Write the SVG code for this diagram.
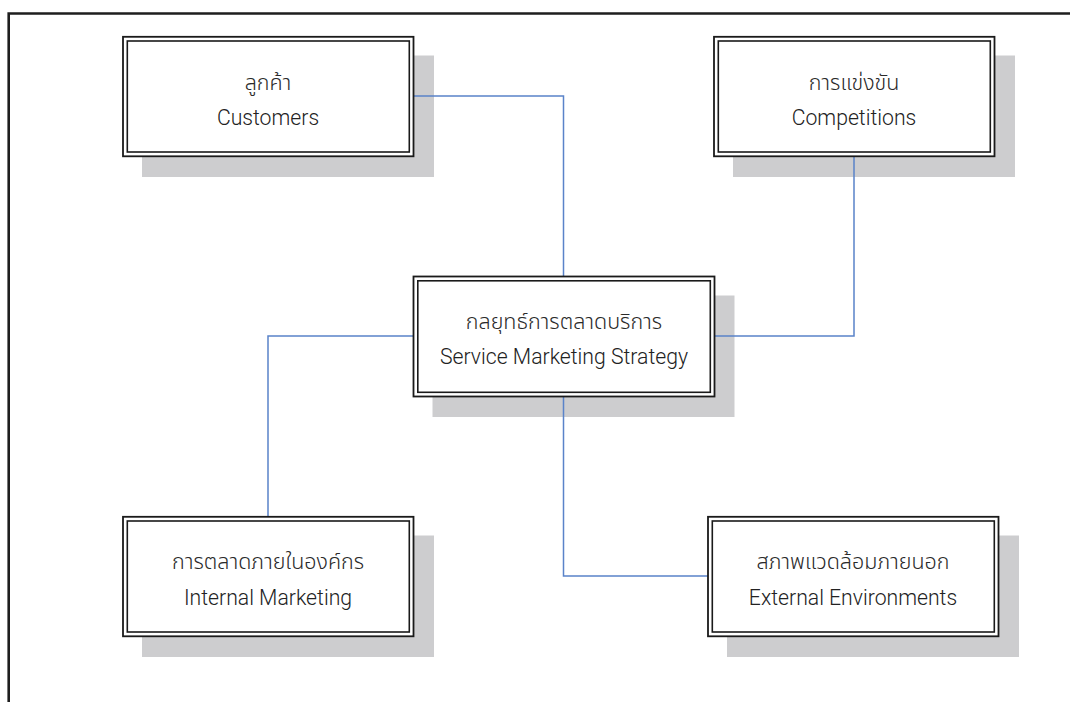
<svg xmlns="http://www.w3.org/2000/svg" width="1070" height="702" viewBox="0 0 1070 702">
  <style>
    .frame { fill: none; stroke: #1e1e1e; stroke-width: 2.6; }
    .shadow { fill: #cdcdcf; }
    .outer { fill: #ffffff; stroke: #1a1a1a; stroke-width: 1.8; }
    .inner { fill: none; stroke: #1a1a1a; stroke-width: 1.6; }
    .link { fill: none; stroke: #5a83c9; stroke-width: 1.5; }
    .th { font-family: "Noto Sans Thai", "Noto Sans", "DejaVu Sans", sans-serif; font-size: 21.5px; font-weight: 300; fill: #2a2a2a; text-anchor: middle; }
    .en { font-family: Roboto, "Liberation Sans", Arial, sans-serif; font-size: 21.2px; font-weight: 300; fill: #222222; text-anchor: middle; }
  </style>

  <!-- page frame (open at right and bottom) -->
  <path class="frame" d="M8.7,702 V13.5 H1070"/>

  <!-- drop shadows drawn first so boxes sit on top -->
  <g id="shadows">
    <rect class="shadow" x="142" y="55.5" width="292" height="121.5"/>
    <rect class="shadow" x="733" y="55.5" width="282" height="121.5"/>
    <rect class="shadow" x="432.5" y="295.5" width="302" height="121.5"/>
    <rect class="shadow" x="142" y="535.5" width="292" height="121.5"/>
    <rect class="shadow" x="727" y="535.5" width="292" height="121.5"/>
  </g>

  <!-- connectors -->
  <g id="connectors">
    <path class="link" d="M414,96 H563.5 V276"/>
    <path class="link" d="M854,157 V336 H715"/>
    <path class="link" d="M413,336 H268 V517"/>
    <path class="link" d="M563.5,397 V576 H708"/>
  </g>

  <g id="customers">
    <rect class="outer" x="123" y="36.8" width="290.5" height="119.5"/>
    <rect class="inner" x="127.3" y="41" width="282" height="111"/>
    <text class="th" x="268" y="90">ลูกค้า</text>
    <text class="en" x="268" y="125">Customers</text>
  </g>

  <g id="competitions">
    <rect class="outer" x="714" y="36.8" width="280.5" height="119.5"/>
    <rect class="inner" x="718.3" y="41" width="272" height="111"/>
    <text class="th" x="854" y="90">การแข่งขัน</text>
    <text class="en" x="854" y="125">Competitions</text>
  </g>

  <g id="strategy">
    <rect class="outer" x="413.5" y="276.5" width="301" height="120"/>
    <rect class="inner" x="417.8" y="280.8" width="292.5" height="111.5"/>
    <text class="th" x="564" y="328.5">กลยุทธ์การตลาดบริการ</text>
    <text class="en" x="564" y="363.5">Service Marketing Strategy</text>
  </g>

  <g id="internal">
    <rect class="outer" x="123" y="516.8" width="290.5" height="119.5"/>
    <rect class="inner" x="127.3" y="521" width="282" height="111"/>
    <text class="th" x="268" y="569">การตลาดภายในองค์กร</text>
    <text class="en" x="268" y="604.5">Internal Marketing</text>
  </g>

  <g id="external">
    <rect class="outer" x="708" y="516.8" width="290.5" height="119.5"/>
    <rect class="inner" x="712.3" y="521" width="282" height="111"/>
    <text class="th" x="853" y="569">สภาพแวดล้อมภายนอก</text>
    <text class="en" x="853" y="604.5">External Environments</text>
  </g>
</svg>
